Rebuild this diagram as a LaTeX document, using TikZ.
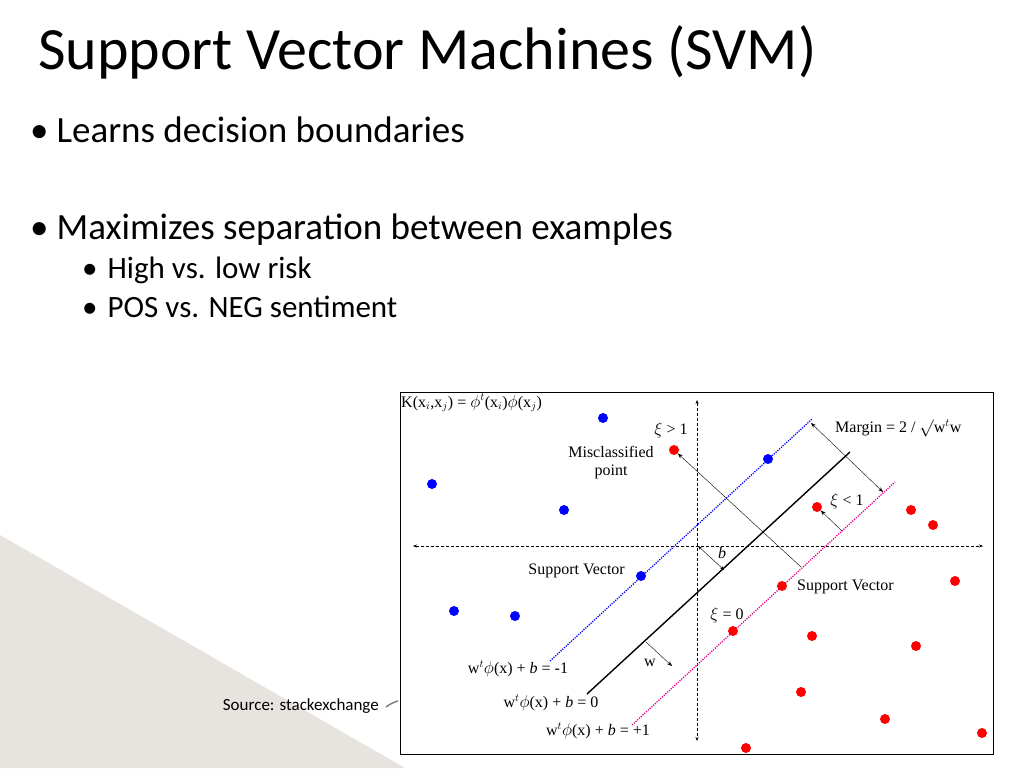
\documentclass[tikz,border=0pt]{standalone}
\usepackage{fontspec}
\setmainfont{Carlito}
\newfontfamily\tm{Liberation Serif}
\usetikzlibrary{arrows.meta}
\definecolor{tri}{HTML}{E7E4DF}
\begin{document}
\begin{tikzpicture}[x=1pt,y=-1pt,
  bul/.style={anchor=west,inner sep=0pt,font=\fontsize{37}{42}\selectfont},
  sbul/.style={anchor=west,inner sep=0pt,font=\fontsize{31}{36}\selectfont},
  lab/.style={inner sep=0pt,font=\tm\fontsize{16}{18}\selectfont},
  bdot/.style={circle,fill=blue,inner sep=0pt,minimum size=10pt},
  rdot/.style={circle,fill=red,inner sep=0pt,minimum size=10pt},
  ax/.style={densely dashed,thin,{Stealth[length=4pt]}-{Stealth[length=4pt]}},
  dl/.style={line width=1.3pt,dash pattern=on 1.2pt off 1.2pt},
  ar/.style={thin,-{Stealth[length=5pt]}}]
\useasboundingbox (0,0) rectangle (1024,768);
\fill[white] (0,0) rectangle (1024,768);
\fill[tri] (0,535) -- (405,768) -- (0,768) -- cycle;
\node[anchor=west,inner sep=0pt,font=\fontsize{60}{64}\selectfont] (title) at (38,52) {Support Vector Machines (SVM)};
\node[bul] (b1) at (30,130) {•\hspace{8pt}Learns decision boundaries};
\node[bul] (b2) at (30,230) {•\hspace{8pt}Maximizes separation between examples};
\node[sbul] (s1) at (82,270) {•\hspace{10pt}High vs. low risk};
\node[sbul] (s2) at (82,307) {•\hspace{10pt}POS vs. NEG sentiment};
\node[anchor=east,inner sep=0pt,font=\fontsize{17}{20}\selectfont] (src) at (379,706) {Source: stackexchange};
\draw[gray,line width=1.5pt] (386,707) to[bend left=10] (398,701);
% diagram box
\node[draw=black,line width=1.2pt,fill=white,minimum width=593pt,minimum height=362pt,anchor=north west,inner sep=0pt] (box) at (400,392) {};
\coordinate (vt) at (697,400); \coordinate (vb) at (697,741);
\coordinate (hl) at (413,546); \coordinate (hr) at (983,546);
\draw[ax] (vt) -- (vb);
\draw[ax] (hl) -- (hr);
\coordinate (bl1) at (550,661); \coordinate (bl2) at (812,419);
\coordinate (k1) at (587,694); \coordinate (k2) at (850,452);
\coordinate (m1) at (632,725); \coordinate (m2) at (895,482);
\draw[blue,dl] (bl1) -- (bl2);
\draw[black,line width=1.4pt] (k1) -- (k2);
\draw[magenta,dl] (m1) -- (m2);
% dots
\foreach \p/\n in {{603,418}/b1,{432,484}/b2,{564,510}/b3,{768,459}/b4,{641,576}/b5,{454,611}/b6,{515,616}/b7}
  \node[bdot] (d\n) at (\p) {};
\foreach \p/\n in {{674,450}/r1,{817,507}/r2,{911,510}/r3,{933,525}/r4,{782,586}/r5,{955,581}/r6,{733,631}/r7,{812,636}/r8,{916,646}/r9,{801,692}/r10,{885,719}/r11,{982,733}/r12,{746,748}/r13}
  \node[rdot] (d\n) at (\p) {};
% arrows
\coordinate (ma1) at (811,423); \coordinate (ma2) at (883,492);
\draw[thin,{Stealth[length=5pt]}-{Stealth[length=5pt]}] (ma1) -- (ma2);
\coordinate (mc) at (801,567);
\draw[ar] (mc) -- (dr1);
\coordinate (o) at (698,546); \coordinate (bb) at (724,570);
\draw[thin,{Stealth[length=4pt]}-{Stealth[length=4pt]}] (o) -- (bb);
\coordinate (xs) at (842,531);
\draw[ar] (xs) -- (dr2);
\coordinate (w1) at (646,642); \coordinate (w2) at (672,666);
\draw[ar] (w1) -- (w2);
% labels
\node[lab,anchor=north west] (K) at (401,394) {K(x$_i$,x$_j$) = $\phi^t$(x$_i$)$\phi$(x$_j$)};
\node[lab,anchor=west] (mg) at (835,428) {Margin = 2 / $\surd$w$^t$w};
\node[lab] (x1) at (671,430) {$\xi$ > 1};
\node[lab,align=center] (mis) at (611,463) {Misclassified\\point};
\node[lab] (bl) at (722,553) {\textit{b}};
\node[lab] (x2) at (847,501) {$\xi$ < 1};
\node[lab,anchor=east] (sv1) at (625,571) {Support Vector};
\node[lab,anchor=west] (sv2) at (797,587) {Support Vector};
\node[lab] (x0) at (727,615) {$\xi$ = 0};
\node[lab] (wl) at (650,663) {w};
\node[lab] (e1) at (518,669) {w$^t\phi$(x) + \textit{b} = -1};
\node[lab] (e0) at (551,703) {w$^t\phi$(x) + \textit{b} = 0};
\node[lab] (e2) at (598,731) {w$^t\phi$(x) + \textit{b} = +1};
\end{tikzpicture}
\end{document}
